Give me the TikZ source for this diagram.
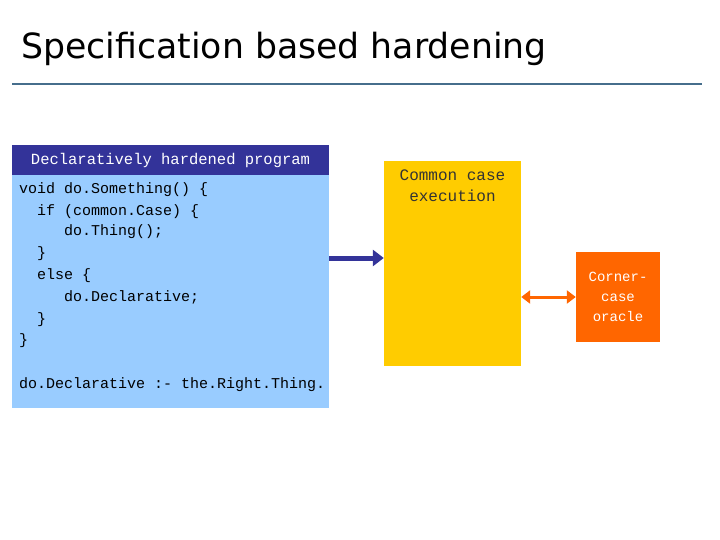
\documentclass[tikz,border=0pt]{standalone}
\usepackage{fontspec}
\setmainfont{DejaVu Sans}
\setmonofont{Liberation Mono}
\usetikzlibrary{arrows.meta}
\definecolor{rulecol}{RGB}{70,110,140}
\definecolor{headblue}{RGB}{51,51,153}
\definecolor{codeblue}{RGB}{153,204,255}
\definecolor{caseyellow}{RGB}{255,204,0}
\definecolor{oracleorange}{RGB}{255,102,0}
\tikzset{
    codeline/.style = {
        anchor=base west,
        inner sep=0pt,
        font=\ttfamily\fontsize{15}{18}\selectfont
    },
    flow/.style = {
        line width=5pt,
        headblue,
        -{Triangle[length=11pt,width=16pt]}
    },
    query/.style = {
        line width=3pt,
        oracleorange,
        {Triangle[length=9pt,width=13pt]}-{Triangle[length=9pt,width=13pt]}
    }
}
\begin{document}
\begin{tikzpicture}[x=1pt,y=-1pt]

	% Rahmen
	\useasboundingbox[fill=white] (0,0) rectangle (720,540);

	% Titel
	\node[anchor=base west, inner sep=0pt, font=\fontsize{34.7}{40}\selectfont] (title) at (21,59) {Specification based hardening};
	\draw[rulecol, line width=2.5pt] (12,84) -- (702,84);

	% Programm
	\node[fill=headblue, text=white, minimum width=317pt, minimum height=30pt, inner sep=0pt,
	      font=\ttfamily\fontsize{15.5}{18}\selectfont] (head) at (170.5,160) {Declaratively hardened program};
	\node[fill=codeblue, minimum width=317pt, minimum height=233pt, inner sep=0pt] (code) at (170.5,291.5) {};
	\node[codeline] at (19,194) {void do.Something() \{};
	\node[codeline] at (19,215) {\ \ if (common.Case) \{};
	\node[codeline] at (19,236) {\ \ \ \ \ do.Thing();};
	\node[codeline] at (19,258) {\ \ \}};
	\node[codeline] at (19,279) {\ \ else \{};
	\node[codeline] at (19,301) {\ \ \ \ \ do.Declarative;};
	\node[codeline] at (19,323) {\ \ \}};
	\node[codeline] at (19,344) {\}};
	\node[codeline] at (19,388) {do.Declarative :- the.Right.Thing.};

	% Ausfuehrung
	\node[fill=caseyellow, minimum width=137pt, minimum height=205pt, inner sep=0pt] (common) at (452.5,263.5) {};
	\node[anchor=north, align=center, text=black!80, inner sep=0pt,
	      font=\ttfamily\fontsize{16}{21}\selectfont] (commonlabel) at (452.5,170) {Common case\\execution};

	% Orakel
	\node[fill=oracleorange, text=white, minimum width=84pt, minimum height=90pt, inner sep=0pt, align=center,
	      font=\ttfamily\fontsize{14}{20}\selectfont] (oracle) at (618,297) {Corner-\\case\\oracle};

	% Pfeile
	\coordinate (flowstart) at (code.east |- 0,258);
	\coordinate (flowend) at (common.west |- 0,258);
	\draw[flow] (flowstart) -- (flowend);
	\draw[query] (common.east |- oracle.west) -- (oracle.west);

\end{tikzpicture}
\end{document}
